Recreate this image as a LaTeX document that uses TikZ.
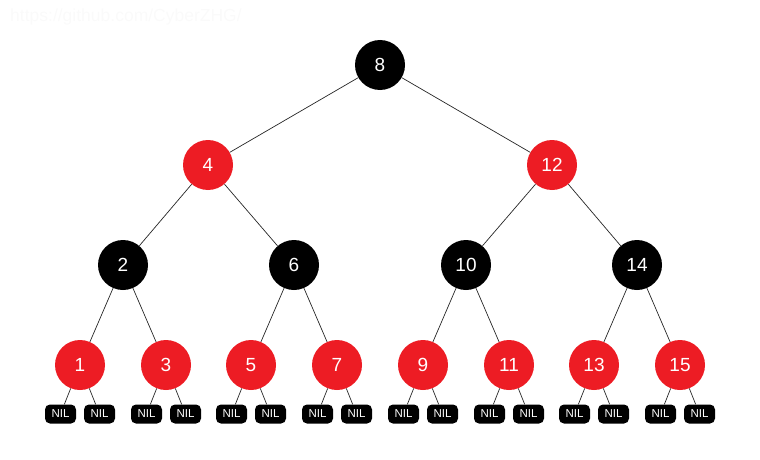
\documentclass[tikz,border=0pt]{standalone}
\usepackage{fontspec}
\setmainfont{Liberation Sans}
\definecolor{rbred}{HTML}{ED1C24}
\definecolor{wm}{HTML}{FAFAFA}
\begin{document}
\begin{tikzpicture}[x=1pt,y=-1pt,
  blk/.style={circle,fill=black,minimum size=50pt,inner sep=0pt,text=white,font=\fontsize{19}{19}\selectfont},
  red/.style={circle,fill=rbred,minimum size=50pt,inner sep=0pt,text=white,font=\fontsize{19}{19}\selectfont},
  nil/.style={rectangle,rounded corners=5pt,fill=black,minimum width=31pt,minimum height=19pt,inner sep=0pt,text=white,font=\fontsize{11.5}{11.5}\selectfont},
  lk/.style={draw=black!85,line width=0.7pt}]
\useasboundingbox (0,0) rectangle (760,460);
\node[anchor=west,text=wm,font=\fontsize{17.5}{17.5}\selectfont,inner sep=0pt] (wmk) at (10,17) {https://github.com/CyberZHG/};
\node[blk] (n8) at (380,65) {8};
\node[red] (n4) at (208,165) {4};
\node[red] (n12) at (552,165) {12};
\node[blk] (n2) at (123,265) {2};
\node[blk] (n6) at (294,265) {6};
\node[blk] (n10) at (466,265) {10};
\node[blk] (n14) at (637,265) {14};
\foreach \v/\x in {1/80,3/166,5/251,7/337,9/423,11/509,13/594,15/680}{
  \node[red] (n\v) at (\x,365) {\v};
  \node[nil] (l\v) at (\x-19.5,414) {NIL};
  \node[nil] (r\v) at (\x+19.5,414) {NIL};
  \draw[lk] (n\v) -- (l\v);
  \draw[lk] (n\v) -- (r\v);
}
\draw[lk] (n8) -- (n4);
\draw[lk] (n8) -- (n12);
\draw[lk] (n4) -- (n2);
\draw[lk] (n4) -- (n6);
\draw[lk] (n12) -- (n10);
\draw[lk] (n12) -- (n14);
\draw[lk] (n2) -- (n1);
\draw[lk] (n2) -- (n3);
\draw[lk] (n6) -- (n5);
\draw[lk] (n6) -- (n7);
\draw[lk] (n10) -- (n9);
\draw[lk] (n10) -- (n11);
\draw[lk] (n14) -- (n13);
\draw[lk] (n14) -- (n15);
\end{tikzpicture}
\end{document}
